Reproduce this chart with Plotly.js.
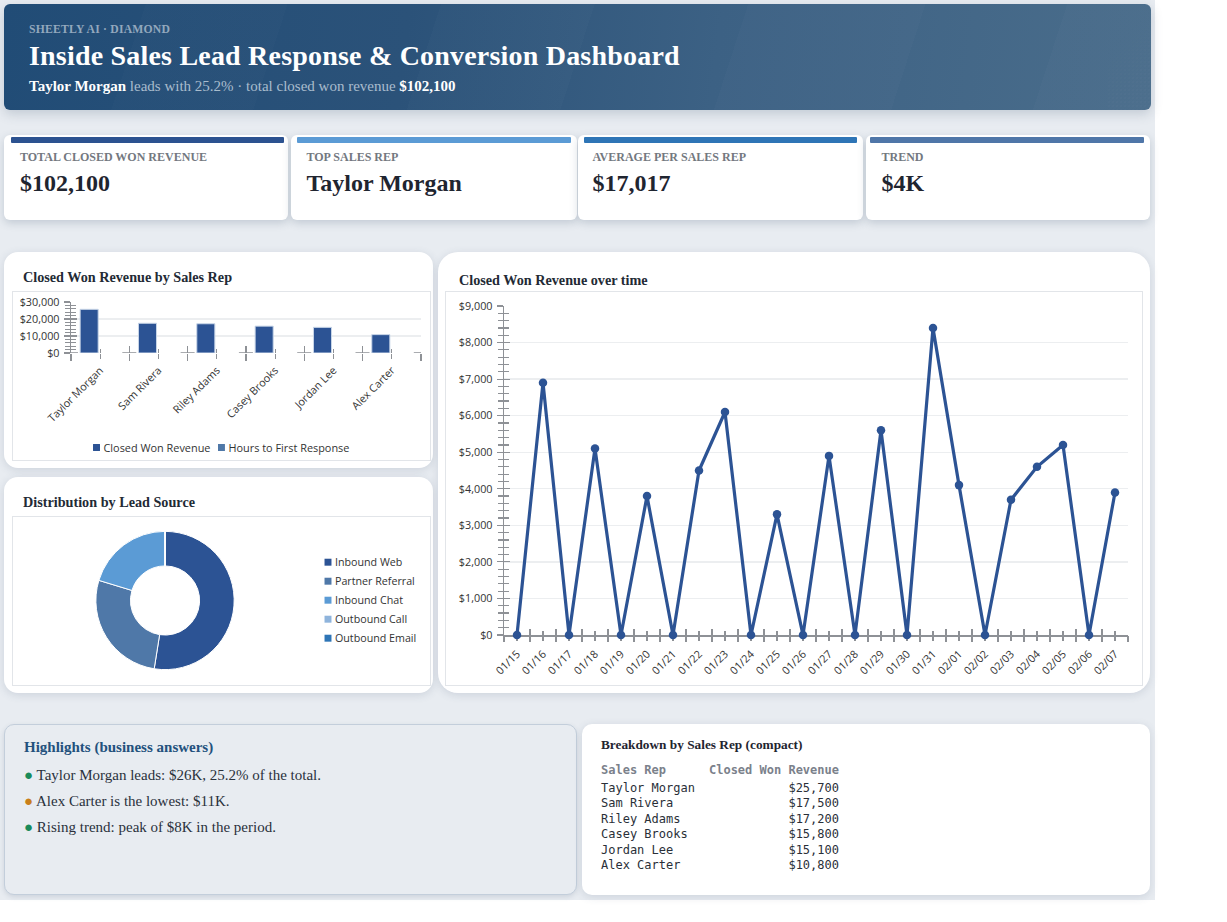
<!DOCTYPE html>
<html><head><meta charset="utf-8">
<script src="https://cdn.plot.ly/plotly-3.0.1.min.js"></script>
<style>
html,body{margin:0;padding:0;background:#fff;width:1227px;height:922px;overflow:hidden;font-family:"Liberation Serif",serif;}
#page{position:absolute;left:0;top:0;width:1155px;height:900px;background:#e8ecf1;}
.abs{position:absolute;box-sizing:border-box;}
#hdr{left:4px;top:4px;width:1147px;height:106px;border-radius:6px;overflow:hidden;
 background:linear-gradient(108deg,rgba(255,255,255,0) 0 12%,rgba(255,255,255,.012) 12% 24%,rgba(255,255,255,0) 24% 37%,rgba(255,255,255,.014) 37% 50%,rgba(255,255,255,0) 50% 63%,rgba(255,255,255,.014) 63% 78%,rgba(255,255,255,0) 78% 90%,rgba(255,255,255,.016) 90% 100%),linear-gradient(97deg,#214c76 0%,#2b5279 35%,#3c6184 62%,#4a6d8b 100%);
 box-shadow:0 4px 12px rgba(60,80,110,.22);}
#hdr .dots{position:absolute;right:0;top:0;width:44px;height:106px;background-image:radial-gradient(rgba(255,255,255,.04) .6px,transparent .8px);background-size:4px 4px;-webkit-mask-image:linear-gradient(315deg,#000 30%,transparent 70%);}
#hdr .eb{position:absolute;left:25px;top:18.5px;font-size:11.7px;font-weight:700;color:#93a8bd;letter-spacing:.2px;}
#hdr .tt{position:absolute;left:25px;top:36px;font-size:28px;letter-spacing:.2px;font-weight:700;color:#fff;white-space:nowrap;}
#hdr .sb{position:absolute;left:25px;top:73.5px;font-size:15px;color:#a9bccd;white-space:nowrap;}
#hdr .sb b{color:#fff;}
.kpi{top:135px;height:85px;background:#fff;border-radius:6px;box-shadow:0 3px 8px rgba(60,80,110,.22);}
.kpi i{position:absolute;top:2px;height:6px;display:block;border-radius:1px;}
.kpi .l{position:absolute;top:15px;font-size:12px;font-weight:700;color:#73787f;white-space:nowrap;}
.kpi .v{position:absolute;top:34.5px;font-size:24px;font-weight:700;color:#1f2530;white-space:nowrap;}
.card{background:#fff;box-shadow:0 2px 8px rgba(60,80,110,.16);}
.ct{position:absolute;font-size:14.2px;font-weight:700;color:#232a35;white-space:nowrap;}
.frame{border:1.5px solid #e2e5e9;background:#fff;}
#hl{left:4px;top:724px;width:573px;height:171px;background:#e8ecf1;border:1px solid #c3cedb;border-radius:10px;box-shadow:0 2px 5px rgba(60,80,110,.16);}
#hl .h{position:absolute;left:19px;top:14px;font-size:15px;font-weight:700;color:#23517d;}
#hl .b{position:absolute;left:19px;font-size:15px;color:#2a313c;white-space:nowrap;}
#bk{left:582px;top:724px;width:568px;height:171px;background:#fff;border-radius:10px;box-shadow:0 2px 8px rgba(60,80,110,.16);}
#bk .h{position:absolute;left:19px;top:13px;font-size:13.3px;font-weight:700;color:#1f2530;}
.mono{position:absolute;left:19px;font:12px/15.4px "DejaVu Sans Mono",monospace;width:238px;display:flex;justify-content:space-between;color:#2a2f38;white-space:pre;}
</style></head><body>
<div id="page">
<div class="abs" id="hdr">
 <div class="dots"></div>
 <div class="eb">SHEETLY AI · DIAMOND</div>
 <div class="tt">Inside Sales Lead Response &amp; Conversion Dashboard</div>
 <div class="sb"><b>Taylor Morgan</b> leads with 25.2% · total closed won revenue <b>$102,100</b></div>
</div>
<div class="abs kpi" style="left:4px;width:284px"><i style="left:7px;right:4px;background:#2c5290"></i><div class="l" style="left:16px">TOTAL CLOSED WON REVENUE</div><div class="v" style="left:16px">$102,100</div></div>
<div class="abs kpi" style="left:291px;width:286px"><i style="left:6px;right:6px;background:#5b9bd5"></i><div class="l" style="left:15.5px">TOP SALES REP</div><div class="v" style="left:15.5px">Taylor Morgan</div></div>
<div class="abs kpi" style="left:578px;width:285px"><i style="left:6px;right:6px;background:#2e75b6"></i><div class="l" style="left:14.5px">AVERAGE PER SALES REP</div><div class="v" style="left:14.5px">$17,017</div></div>
<div class="abs kpi" style="left:866px;width:284px"><i style="left:4px;right:6px;background:#4f76a8"></i><div class="l" style="left:15.5px">TREND</div><div class="v" style="left:15.5px">$4K</div></div>

<div class="abs card" style="left:4px;top:252px;width:429px;height:216px;border-radius:14px"></div>
<div class="ct" style="left:23px;top:269px">Closed Won Revenue by Sales Rep</div>
<div class="abs frame" style="left:12px;top:291px;width:418.5px;height:169.5px"><div id="bar" style="width:416px;height:167px"></div></div>

<div class="abs card" style="left:4px;top:477px;width:429px;height:216px;border-radius:14px"></div>
<div class="ct" style="left:23px;top:494px">Distribution by Lead Source</div>
<div class="abs frame" style="left:12px;top:516px;width:418.5px;height:169.5px"><div id="pie" style="width:416px;height:167px"></div></div>

<div class="abs card" style="left:438px;top:252px;width:712px;height:441px;border-radius:20px"></div>
<div class="ct" style="left:459px;top:272px">Closed Won Revenue over time</div>
<div class="abs frame" style="left:445px;top:291px;width:698px;height:395px"><div id="line" style="width:695px;height:392px"></div></div>

<div class="abs" id="hl">
 <div class="h">Highlights (business answers)</div>
 <div class="b" style="top:41.5px"><span style="color:#1a8a5a">●</span> Taylor Morgan leads: $26K, 25.2% of the total.</div>
 <div class="b" style="top:67.5px"><span style="color:#c97f1a">●</span> Alex Carter is the lowest: $11K.</div>
 <div class="b" style="top:93.5px"><span style="color:#1a8a5a">●</span> Rising trend: peak of $8K in the period.</div>
</div>
<div class="abs" id="bk"><div class="h">Breakdown by Sales Rep (compact)</div><div id="tbl"></div></div>
</div>
<script>
const reps = ["Taylor Morgan","Sam Rivera","Riley Adams","Casey Brooks","Jordan Lee","Alex Carter"];
const revenue = [25700,17500,17200,15800,15100,10800];
const hours = [2.4,3.1,3.6,4.2,4.8,5.5];
const sources = ["Inbound Web","Partner Referral","Inbound Chat","Outbound Call","Outbound Email"];
const sourceShare = [52.5,27.2,20.3,0,0];
const sourceColors = ["#2c5394","#4f78a8","#5b9bd5","#8fb4dc","#2e75b6"];
const dates = ["01/15","01/16","01/17","01/18","01/19","01/20","01/21","01/22","01/23","01/24","01/25","01/26","01/27","01/28","01/29","01/30","01/31","02/01","02/02","02/03","02/04","02/05","02/06","02/07"];
const daily = [0,6900,0,5100,0,3800,0,4500,6100,0,3300,0,4900,0,5600,0,8400,4100,0,3700,4600,5200,0,3900];
const revenueLabels = ["$25,700","$17,500","$17,200","$15,800","$15,100","$10,800"];

const tbl=document.getElementById('tbl');
function row(a,b,top,col,bold){const d=document.createElement('div');d.className='mono';d.style.top=top+'px';if(col)d.style.color=col;if(bold)d.style.fontWeight='700';d.innerHTML='<span>'+a+'</span><span>'+b+'</span>';tbl.appendChild(d);}
row('Sales Rep','Closed Won Revenue',39,'#7b818b',true);
reps.forEach((r,i)=>row(r,revenueLabels[i],57+i*15.4));

const FONT='"Open Sans",sans-serif';
const AX='#8e9196', GRID='#eceef0', TXT='#333', TW=1.2;
function tickAxes(n,major,minorLen,nameY){
 const mk=(side)=>({type:'linear',range:[-0.5,n-0.5],overlaying:'x',anchor:nameY,layer:'below traces',showgrid:false,zeroline:false,showline:false,showticklabels:false,
  ticks:side,tick0:-0.5,dtick:1,ticklen:major,tickwidth:TW,tickcolor:AX,
  minor:{ticks:side,tick0:0,dtick:1,ticklen:minorLen,tickwidth:TW,tickcolor:AX,showgrid:false}});
 return [mk('inside'),mk('outside')];
}
function valueAxis(max,dtick,minorD,fs){return {range:[0,max],tick0:0,dtick:dtick,tickformat:'$,.0f',layer:'below traces',showgrid:true,gridcolor:GRID,gridwidth:1.3,zeroline:false,
  showline:true,linecolor:AX,linewidth:1.3,ticks:'outside',ticklen:6,tickwidth:TW,tickcolor:AX,ticklabelstandoff:2,
  minor:{ticks:'outside',dtick:minorD,ticklen:4.5,tickwidth:TW,tickcolor:AX,showgrid:false},tickfont:{family:FONT,size:fs,color:TXT}};}
function valueOverlay(max,dtick,minorD){return {overlaying:'y',anchor:'x',side:'left',layer:'below traces',showgrid:false,zeroline:false,showticklabels:false,showline:false,
  ticks:'inside',range:[0,max],tick0:0,dtick:dtick,ticklen:6,tickwidth:TW,tickcolor:AX,
  minor:{ticks:'inside',dtick:minorD,ticklen:4.5,tickwidth:TW,tickcolor:AX,showgrid:false}};}
const ghost=(x,y)=>({x:[0],y:[0],xaxis:x,yaxis:y,type:'scatter',mode:'none',showlegend:false,hoverinfo:'skip'});

// BAR
const [bi,bo]=tickAxes(6,7,4.5,'y');
Plotly.newPlot('bar',[
 {type:'bar',name:'Closed Won Revenue',x:reps,y:revenue,marker:{color:'#2c5394',line:{color:'#c9d6e8',width:1}}},
 {type:'bar',name:'Hours to First Response',x:reps,y:hours,marker:{color:'#4f78a8'}},
 ghost('x2','y'),ghost('x3','y'),ghost('x','y2')
],{
 width:416,height:167,margin:{l:58,r:8,t:11,b:105.3},paper_bgcolor:'#fff',plot_bgcolor:'#fff',font:{family:FONT,color:TXT},
 barmode:'group',bargap:0.245,bargroupgap:0.18,
 xaxis:{type:'category',categoryorder:'array',categoryarray:reps,range:[-0.5,5.5],tickangle:-45,ticks:'',showgrid:false,showline:false,layer:'below traces',tickfont:{family:FONT,size:10.8,color:TXT},ticklabelstandoff:8,automargin:false},
 xaxis2:bi,xaxis3:bo,
 yaxis:valueAxis(30000,10000,2000,10.8),
 yaxis2:valueOverlay(30000,10000,2000),
 shapes:[{type:'line',xref:'x2',yref:'y',x0:-0.5,x1:5.5,y0:0,y1:0,line:{color:AX,width:1.3,dash:'7px,44.3px,7px,0px'},layer:'below'}],
 legend:{orientation:'h',x:0.0043,y:-1.78,xanchor:'left',yanchor:'top',font:{family:FONT,size:10.9,color:TXT},bgcolor:'rgba(0,0,0,0)'},
 showlegend:true
},{staticPlot:true,displayModeBar:false});

// PIE
Plotly.newPlot('pie',[{type:'pie',labels:sources,values:sourceShare,hole:0.5,sort:false,direction:'clockwise',rotation:0,
 marker:{colors:sourceColors,line:{color:'#fff',width:1}},textinfo:'none',hoverinfo:'none',
 domain:{x:[84.5/416,225.5/416],y:[13/167,154/167]}}],{
 width:416,height:167,margin:{l:0,r:0,t:0,b:0},paper_bgcolor:'#fff',
 legend:{x:295/416,y:0.5,xanchor:'left',yanchor:'middle',font:{family:FONT,size:10.7,color:TXT},bgcolor:'rgba(0,0,0,0)'},showlegend:true
},{staticPlot:true,displayModeBar:false});

// LINE
const [li,lo]=tickAxes(24,6,4.5,'y');
Plotly.newPlot('line',[
 {type:'scatter',mode:'lines+markers',name:'Closed Won Revenue',x:dates,y:daily,line:{color:'#2c5394',width:3.2},marker:{color:'#2c5394',size:8.5},cliponaxis:false},
 ghost('x2','y'),ghost('x3','y'),ghost('x','y2')
],{
 width:695,height:392,margin:{l:57.5,r:12.8,t:14,b:49},paper_bgcolor:'#fff',plot_bgcolor:'#fff',font:{family:FONT,color:TXT},showlegend:false,
 xaxis:{type:'category',categoryorder:'array',categoryarray:dates,range:[-0.5,23.5],tickangle:-45,ticks:'',showgrid:false,showline:true,linecolor:AX,linewidth:1.5,layer:'below traces',tickfont:{family:FONT,size:10.8,color:TXT},ticklabelstandoff:7},
 xaxis2:li,xaxis3:lo,
 yaxis:valueAxis(9000,1000,200,10.8),
 yaxis2:valueOverlay(9000,1000,200)
},{staticPlot:true,displayModeBar:false});

// compact legends: small swatches close to the text
function tightLegend(id,horizontal,dy,dx){
 const gd=document.getElementById(id);
 let x=dx;
 gd.querySelectorAll('.legend .traces').forEach(t=>{
  t.querySelectorAll('.legendpoints path').forEach(p=>{p.setAttribute('transform','translate(24,0) scale(.58)');p.style.strokeWidth='0';});
  const txt=t.querySelector('text.legendtext');
  txt.setAttribute('x','31');
  const m=(t.getAttribute('transform')||'').match(/translate\(([^,]+),\s*([^)]+)\)/);
  t.setAttribute('transform','translate('+x+','+((m?parseFloat(m[2]):0)+dy)+')');
  if(horizontal) x+=txt.getComputedTextLength()+18;
 });
 gd.querySelectorAll('.legend .scrollbox').forEach(s=>s.removeAttribute('clip-path'));
}
tightLegend('bar',true,3,0);
tightLegend('pie',false,-0.3,2);
</script>
</body></html>
